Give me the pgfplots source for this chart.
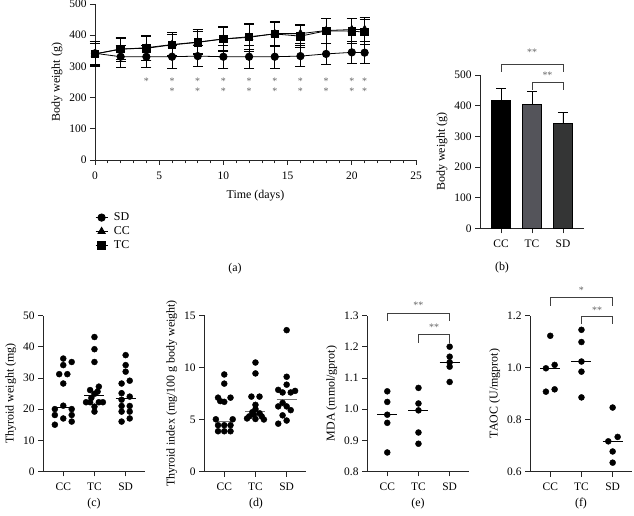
\documentclass[border=0pt]{standalone}
\usepackage{fontspec}
\setmainfont{Liberation Serif}
\usepackage{pgfplots}
\pgfplotsset{compat=1.18}
\definecolor{tcgray}{RGB}{84,84,90}
\definecolor{sdgray}{RGB}{52,53,53}

\pgfplotsset{
  panel/.style={
    scale only axis, anchor=south west,
    axis x line*=bottom, axis y line*=left,
    tick align=outside,
    major tick length=5bp, minor tick length=3.5bp,
    axis line style={line width=0.7pt, black!85},
    every tick/.style={line width=0.7pt, black!85},
    tick label style={font=\fontsize{11.5}{13}\selectfont, /pgf/number format/assume math mode=true},
    xticklabel style={yshift=-3bp},
    label style={font=\fontsize{12}{14}\selectfont},
    clip=false,
  },
  cat/.style={panel, width=102bp, height=156bp, xmin=0.35, xmax=3.62,
    xtick={1,2,3}, xticklabels={CC,TC,SD}},
  dots/.style={only marks, mark=*, mark size=3bp, black},
  med/.style={black, line width=0.8pt, no marks},
  brk/.style={black!75, line width=0.7pt, no marks},
  sig/.style={draw=none, mark=none, nodes near coords={#1},
    every node near coord/.style={anchor=center, black!60, font=\fontsize{10}{11}\selectfont}},
  ebar/.style={error bars/.cd, y dir=both, y explicit,
    error bar style={line width=0.7pt, black},
    error mark options={rotate=90, mark size=5bp, line width=0.7pt, black}},
  pbar/.style={ybar, bar width=19bp, bar shift=0pt, fill=#1, draw=black, line width=0.6pt,
    error bars/.cd, y dir=plus, y explicit, error bar style={line width=0.7pt, black},
    error mark options={rotate=90, mark size=5bp, line width=0.7pt, black}},
}

\begin{document}
\begin{tikzpicture}
\path[use as bounding box] (0,0) rectangle (634bp,516bp);

% (a) body weight over time
\begin{axis}[panel, at={(95bp,356bp)}, width=321bp, height=156bp,
  xmin=0, xmax=25, ymin=0, ymax=500,
  xtick={0,5,...,25}, minor x tick num=4, ytick={0,100,...,500},
  xlabel={Time (days)}, ylabel={Body weight (g)},
  xlabel style={yshift=-4bp},
  legend style={at={(0,-0.325)}, anchor=north west, draw=none, fill=none,
    font=\fontsize{12}{14}\selectfont, row sep=0.5bp, inner sep=0pt, cells={anchor=west}},
  legend image code/.code={\path (16bp,0bp);
    \draw[mark repeat=2,mark phase=2,#1] plot coordinates {(0bp,0bp) (6bp,0bp) (12bp,0bp)};}]
\addplot[black, line width=0.8pt, mark=*, mark size=3.7bp, ebar] coordinates {
  (0,342) +- (0,38) (2,331) +- (0,35) (4,331) +- (0,35) (6,331) +- (0,36)
  (8,333) +- (0,34) (10,331) +- (0,36) (12,331) +- (0,36) (14,331) +- (0,36)
  (16,333) +- (0,34) (18,340) +- (0,35) (20,345) +- (0,35) (21,344) +- (0,35)};
\addplot[black, line width=0.8pt, mark=triangle*, mark size=4.2bp, ebar] coordinates {
  (0,340) +- (0,40) (2,355) +- (0,38) (4,360) +- (0,40) (6,370) +- (0,38)
  (8,378) +- (0,40) (10,388) +- (0,40) (12,393) +- (0,44) (14,405) +- (0,40)
  (16,405) +- (0,30) (18,415) +- (0,40) (20,418) +- (0,37) (21,418) +- (0,38)};
\addplot[black, line width=0.8pt, mark=square*, mark size=3.8bp, ebar] coordinates {
  (0,340) +- (0,35) (2,356) +- (0,33) (4,358) +- (0,38) (6,369) +- (0,35)
  (8,377) +- (0,35) (10,388) +- (0,38) (12,395) +- (0,40) (14,404) +- (0,38)
  (16,397) +- (0,35) (18,414) +- (0,40) (20,413) +- (0,40) (21,410) +- (0,40)};
\addplot[sig={*}] coordinates {(4,253) (6,253) (8,253) (10,253) (12,253) (14,253)
  (16,253) (18,253) (20,253) (21,253)};
\addplot[sig={*}] coordinates {(6,221) (8,221) (10,221) (12,221) (14,221)
  (16,221) (18,221) (20,221) (21,221)};
\legend{SD,CC,TC}
\end{axis}

% (b) final body weight
\begin{axis}[panel, at={(480bp,287.7bp)}, width=104bp, height=153.3bp,
  xmin=0.32, xmax=3.68, ymin=0, ymax=500,
  xtick={1,2,3}, xticklabels={CC,TC,SD}, ytick={0,100,...,500},
  ylabel={Body weight (g)}]
\addplot[pbar=black] coordinates {(1,419) +- (0,38)};
\addplot[pbar=tcgray] coordinates {(2,406) +- (0,40)};
\addplot[pbar=sdgray] coordinates {(3,341) +- (0,38)};
\addplot[brk] coordinates {(1,511) (1,536) (3,536) (3,511)};
\addplot[brk] coordinates {(2,451) (2,475) (3,475) (3,451)};
\addplot[sig={**}] coordinates {(2,575)};
\addplot[sig={**}] coordinates {(2.5,500)};
\end{axis}

% (c) thyroid weight
\begin{axis}[cat, at={(43bp,44.5bp)}, ymin=0, ymax=50, ytick={0,10,...,50},
  ylabel={Thyroid weight (mg)}]
\addplot[dots] coordinates {
  (1,36.2) (1.27,35.1) (1,34.1) (0.87,31.2) (1.13,31.2) (1,28.2) (1,21.1)
  (0.73,20.0) (1.27,20.0) (0.73,18.1) (1.27,18.1) (1,17.0) (1.27,16.0) (0.73,15.0)
  (2,43.1) (2,39.2) (2,35.1) (2.14,27.2) (1.86,26.1) (2.1,25.6) (2.0,24.9)
  (1.73,22.2) (1.86,22.2) (2.14,22.2) (2.27,22.2) (2,20.8) (2,19.2) (1.9,23.6)
  (3,37.3) (3,34.1) (3,32.0) (3.13,29.1) (2.87,28.2) (2.87,25.1) (3.13,24.0)
  (2.87,23.0) (2.87,21.0) (3.13,21.0) (2.87,19.2) (3.13,19.2) (3.13,17.0) (2.87,16.0)};
\addplot[med] coordinates {(0.68,20.6) (1.32,20.6)};
\addplot[med] coordinates {(1.68,24.5) (2.32,24.5)};
\addplot[med] coordinates {(2.68,23.5) (3.32,23.5)};
\end{axis}

% (d) thyroid index
\begin{axis}[cat, at={(204bp,44.5bp)}, ymin=0, ymax=15, ytick={0,5,10,15},
  ylabel={Thyroid index (mg/100 g body weight)}]
\addplot[dots] coordinates {
  (1,9.33) (1,8.45) (0.8,7.1) (1.2,7.1) (0.87,6.77) (1.0,6.7) (0.73,5.02) (1.27,5.02)
  (0.8,4.45) (1,4.45) (1.2,4.45) (0.8,3.87) (1,3.87) (1.2,3.87)
  (2,10.48) (2,9.43) (1.87,7.2) (2.13,7.2) (2,6.41) (2.13,5.6) (1.8,5.3) (1.95,5.45)
  (2.2,5.3) (1.73,5.1) (2,5.05) (2.27,5.0) (1.9,5.7) (2,6.0)
  (3,13.59) (3,9.11) (3,8.35) (2.73,7.85) (2.87,7.6) (3.13,7.6) (3.27,7.75) (2.87,6.6)
  (2.73,6.26) (3,6.26) (3.13,5.9) (2.87,5.4) (3,4.9) (2.73,4.6)};
\addplot[med, black!55] coordinates {(0.68,4.85) (1.32,4.85)};
\addplot[med, black!55] coordinates {(1.68,5.8) (2.32,5.8)};
\addplot[med, black!55] coordinates {(2.68,6.9) (3.32,6.9)};
\end{axis}

% (e) MDA
\begin{axis}[cat, at={(367bp,44.5bp)}, ymin=0.8, ymax=1.3, ytick={0.8,0.9,...,1.3},
  yticklabel style={/pgf/number format/.cd, fixed, fixed zerofill, precision=1},
  ylabel={MDA (mmol/gprot)}]
\addplot[dots] coordinates {
  (1,1.057) (1,1.023) (1,0.982) (1,0.956) (1,0.861)
  (2,1.068) (2,1.018) (2,0.996) (2,0.925) (2,0.889)
  (3,1.200) (3,1.168) (3,1.150) (3,1.136) (3,1.087)};
\addplot[med] coordinates {(0.68,0.982) (1.32,0.982)};
\addplot[med] coordinates {(1.68,0.996) (2.32,0.996)};
\addplot[med] coordinates {(2.68,1.150) (3.32,1.150)};
\addplot[brk] coordinates {(1,1.282) (1,1.307) (3,1.307) (3,1.282)};
\addplot[brk] coordinates {(2,1.213) (2,1.240) (3,1.240) (3,1.213)};
\addplot[sig={**}] coordinates {(2,1.333)};
\addplot[sig={**}] coordinates {(2.5,1.262)};
\end{axis}

% (f) TAOC
\begin{axis}[cat, at={(530bp,44.5bp)}, ymin=0.6, ymax=1.2, ytick={0.6,0.8,1.0,1.2},
  yticklabel style={/pgf/number format/.cd, fixed, fixed zerofill, precision=1},
  ylabel={TAOC (U/mgprot)}]
\addplot[dots] coordinates {
  (1,1.122) (1.14,1.010) (0.86,0.997) (0.86,0.907) (1.14,0.916)
  (2,1.145) (2,1.098) (2,1.023) (2,0.984) (2,0.885)
  (3,0.846) (3.16,0.733) (2.86,0.716) (3,0.677) (3,0.634)};
\addplot[med] coordinates {(0.68,0.998) (1.32,0.998)};
\addplot[med] coordinates {(1.68,1.023) (2.32,1.023)};
\addplot[med] coordinates {(2.68,0.716) (3.32,0.716)};
\addplot[brk] coordinates {(1,1.238) (1,1.268) (3,1.268) (3,1.238)};
\addplot[brk] coordinates {(2,1.168) (2,1.196) (3,1.196) (3,1.168)};
\addplot[sig={*}] coordinates {(2,1.298)};
\addplot[sig={**}] coordinates {(2.5,1.222)};
\end{axis}

\begin{scope}[font=\fontsize{12}{14}\selectfont]
\node at (235bp,247bp) {(a)};
\node at (502bp,248bp) {(b)};
\node at (94bp,12bp) {(c)};
\node at (256bp,12bp) {(d)};
\node at (418bp,12bp) {(e)};
\node at (581bp,12bp) {(f)};
\end{scope}
\end{tikzpicture}
\end{document}
